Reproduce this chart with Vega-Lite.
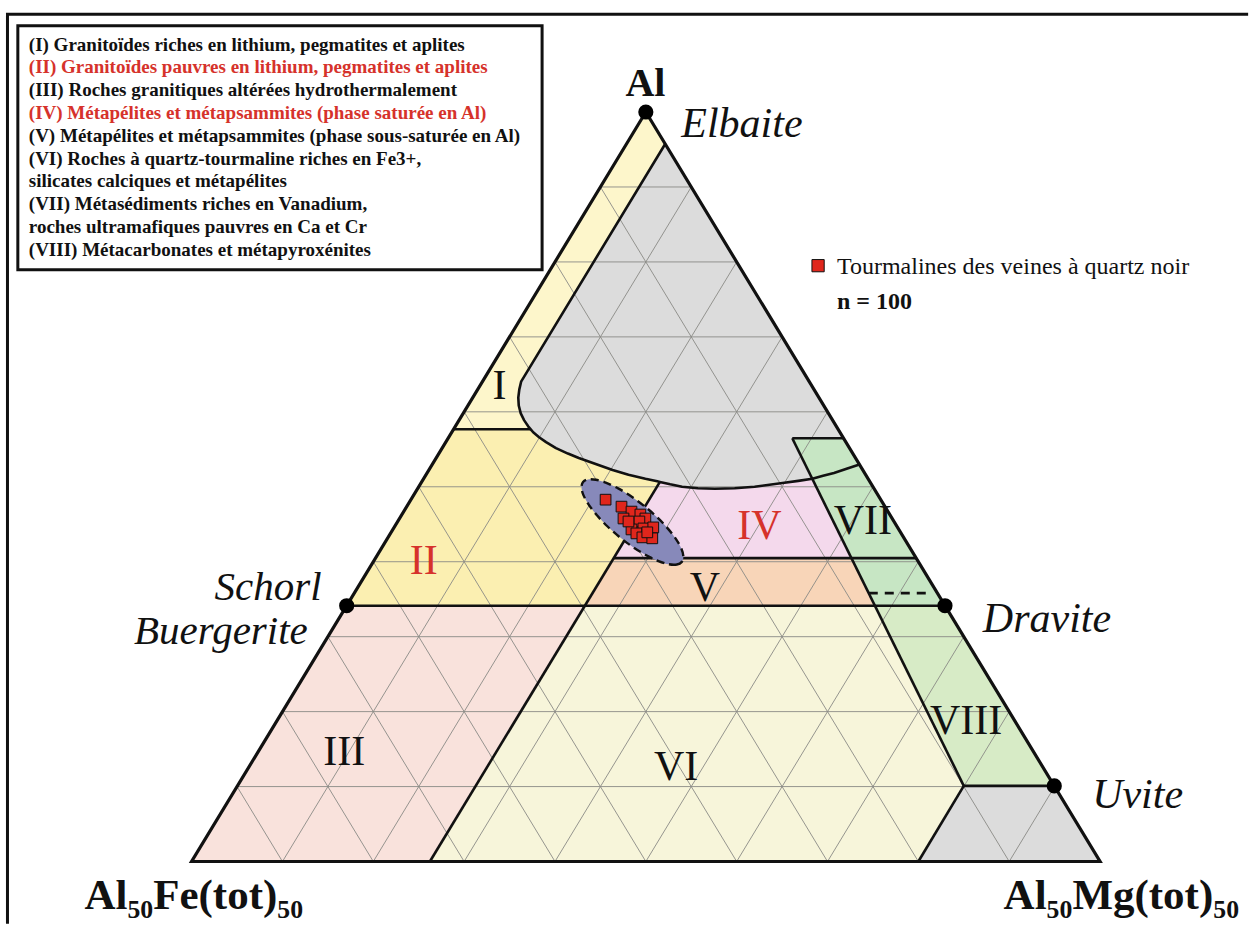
{
"$schema": "https://vega.github.io/schema/vega-lite/v6.json",
"width": 1255, "height": 930,
"autosize": {"type": "fit", "contains": "padding"},
"padding": 0,
"background": "white",
"config": {"view": {"stroke": null}},
"datasets": {
"regions": [
{"region":"grey","o":0,"x":52.13,"y":95.74},{"region":"grey","o":1,"x":36.27,"y":64.02},{"region":"grey","o":2,"x":36.07,"y":62.96},{"region":"grey","o":3,"x":35.96,"y":61.90},{"region":"grey","o":4,"x":36.01,"y":60.85},{"region":"grey","o":5,"x":36.23,"y":59.79},{"region":"grey","o":6,"x":36.61,"y":58.86},{"region":"grey","o":7,"x":37.05,"y":58.07},{"region":"grey","o":8,"x":37.33,"y":57.67},{"region":"grey","o":9,"x":37.60,"y":57.28},{"region":"grey","o":10,"x":38.25,"y":56.61},{"region":"grey","o":11,"x":39.02,"y":55.95},{"region":"grey","o":12,"x":40.11,"y":55.16},{"region":"grey","o":13,"x":41.42,"y":54.43},{"region":"grey","o":14,"x":42.62,"y":53.84},{"region":"grey","o":15,"x":44.48,"y":53.04},{"region":"grey","o":16,"x":46.34,"y":52.25},{"region":"grey","o":17,"x":48.09,"y":51.59},{"region":"grey","o":18,"x":49.95,"y":51.06},{"region":"grey","o":19,"x":51.26,"y":50.73},{"region":"grey","o":20,"x":51.55,"y":50.65},{"region":"grey","o":21,"x":52.68,"y":50.33},{"region":"grey","o":22,"x":53.99,"y":50.00},{"region":"grey","o":23,"x":55.74,"y":49.80},{"region":"grey","o":24,"x":57.60,"y":49.74},{"region":"grey","o":25,"x":59.78,"y":49.80},{"region":"grey","o":26,"x":61.97,"y":50.00},{"region":"grey","o":27,"x":63.61,"y":50.26},{"region":"grey","o":28,"x":65.25,"y":50.53},{"region":"grey","o":29,"x":66.78,"y":50.79},{"region":"grey","o":30,"x":68.33,"y":51.06},{"region":"grey","o":31,"x":66.12,"y":56.48},{"region":"grey","o":32,"x":71.76,"y":56.48},
{"region":"I","o":0,"x":50,"y":100},{"region":"I","o":1,"x":52.13,"y":95.74},{"region":"I","o":2,"x":36.27,"y":64.02},{"region":"I","o":3,"x":36.07,"y":62.96},{"region":"I","o":4,"x":35.96,"y":61.90},{"region":"I","o":5,"x":36.01,"y":60.85},{"region":"I","o":6,"x":36.23,"y":59.79},{"region":"I","o":7,"x":36.61,"y":58.86},{"region":"I","o":8,"x":37.05,"y":58.07},{"region":"I","o":9,"x":37.33,"y":57.67},{"region":"I","o":10,"x":28.84,"y":57.67},
{"region":"II","o":0,"x":28.84,"y":57.67},{"region":"II","o":1,"x":37.33,"y":57.67},{"region":"II","o":2,"x":37.60,"y":57.28},{"region":"II","o":3,"x":38.25,"y":56.61},{"region":"II","o":4,"x":39.02,"y":55.95},{"region":"II","o":5,"x":40.11,"y":55.16},{"region":"II","o":6,"x":41.42,"y":54.43},{"region":"II","o":7,"x":42.62,"y":53.84},{"region":"II","o":8,"x":44.48,"y":53.04},{"region":"II","o":9,"x":46.34,"y":52.25},{"region":"II","o":10,"x":48.09,"y":51.59},{"region":"II","o":11,"x":49.95,"y":51.06},{"region":"II","o":12,"x":51.26,"y":50.73},{"region":"II","o":13,"x":51.55,"y":50.65},{"region":"II","o":14,"x":43.30,"y":34.13},{"region":"II","o":15,"x":17.07,"y":34.13},
{"region":"IV","o":0,"x":51.55,"y":50.65},{"region":"IV","o":1,"x":52.68,"y":50.33},{"region":"IV","o":2,"x":53.99,"y":50.00},{"region":"IV","o":3,"x":55.74,"y":49.80},{"region":"IV","o":4,"x":57.60,"y":49.74},{"region":"IV","o":5,"x":59.78,"y":49.80},{"region":"IV","o":6,"x":61.97,"y":50.00},{"region":"IV","o":7,"x":63.61,"y":50.26},{"region":"IV","o":8,"x":65.25,"y":50.53},{"region":"IV","o":9,"x":66.78,"y":50.79},{"region":"IV","o":10,"x":68.33,"y":51.06},{"region":"IV","o":11,"x":72.63,"y":40.48},{"region":"IV","o":12,"x":46.47,"y":40.48},
{"region":"V","o":0,"x":46.47,"y":40.48},{"region":"V","o":1,"x":72.63,"y":40.48},{"region":"V","o":2,"x":75.22,"y":34.13},{"region":"V","o":3,"x":43.30,"y":34.13},
{"region":"VII","o":0,"x":66.12,"y":56.48},{"region":"VII","o":1,"x":71.76,"y":56.48},{"region":"VII","o":2,"x":82.93,"y":34.13},{"region":"VII","o":3,"x":75.22,"y":34.13},
{"region":"VIII","o":0,"x":75.22,"y":34.13},{"region":"VIII","o":1,"x":82.93,"y":34.13},{"region":"VIII","o":2,"x":94.96,"y":10.09},{"region":"VIII","o":3,"x":85.00,"y":10.09},
{"region":"III","o":0,"x":0,"y":0},{"region":"III","o":1,"x":26.23,"y":0},{"region":"III","o":2,"x":43.30,"y":34.13},{"region":"III","o":3,"x":17.07,"y":34.13},
{"region":"VI","o":0,"x":26.23,"y":0},{"region":"VI","o":1,"x":80,"y":0},{"region":"VI","o":2,"x":85.00,"y":10.09},{"region":"VI","o":3,"x":75.22,"y":34.13},{"region":"VI","o":4,"x":43.30,"y":34.13},
{"region":"greyLow","o":0,"x":80,"y":0},{"region":"greyLow","o":1,"x":100,"y":0},{"region":"greyLow","o":2,"x":94.96,"y":10.09},{"region":"greyLow","o":3,"x":85.00,"y":10.09}
],
"grid": [
{"x":5,"y":10,"x2":95,"y2":10},{"x":10,"y":20,"x2":90,"y2":20},{"x":15,"y":30,"x2":85,"y2":30},{"x":20,"y":40,"x2":80,"y2":40},{"x":25,"y":50,"x2":75,"y2":50},{"x":30,"y":60,"x2":70,"y2":60},{"x":35,"y":70,"x2":65,"y2":70},{"x":40,"y":80,"x2":60,"y2":80},{"x":45,"y":90,"x2":55,"y2":90},
{"x":10,"y":0,"x2":55,"y2":90},{"x":20,"y":0,"x2":60,"y2":80},{"x":30,"y":0,"x2":65,"y2":70},{"x":40,"y":0,"x2":70,"y2":60},{"x":50,"y":0,"x2":75,"y2":50},{"x":60,"y":0,"x2":80,"y2":40},{"x":70,"y":0,"x2":85,"y2":30},{"x":80,"y":0,"x2":90,"y2":20},{"x":90,"y":0,"x2":95,"y2":10},
{"x":10,"y":0,"x2":5,"y2":10},{"x":20,"y":0,"x2":10,"y2":20},{"x":30,"y":0,"x2":15,"y2":30},{"x":40,"y":0,"x2":20,"y2":40},{"x":50,"y":0,"x2":25,"y2":50},{"x":60,"y":0,"x2":30,"y2":60},{"x":70,"y":0,"x2":35,"y2":70},{"x":80,"y":0,"x2":40,"y2":80},{"x":90,"y":0,"x2":45,"y2":90}
],
"segments": [
{"x":28.84,"y":57.67,"x2":37.33,"y2":57.67},
{"x":26.23,"y":0,"x2":51.55,"y2":50.65},
{"x":17.07,"y":34.13,"x2":82.93,"y2":34.13},
{"x":46.47,"y":40.48,"x2":79.76,"y2":40.48},
{"x":66.12,"y":56.48,"x2":71.76,"y2":56.48},
{"x":66.12,"y":56.48,"x2":85.00,"y2":10.09},
{"x":85.00,"y":10.09,"x2":94.96,"y2":10.09},
{"x":80,"y":0,"x2":85.00,"y2":10.09}
],
"dashed": [{"x":74.54,"y":35.81,"x2":81.09,"y2":35.81}],
"curve": [
{"o":0,"x":52.13,"y":95.74},{"o":1,"x":36.27,"y":64.02},{"o":2,"x":36.07,"y":62.96},{"o":3,"x":35.96,"y":61.90},{"o":4,"x":36.01,"y":60.85},{"o":5,"x":36.23,"y":59.79},{"o":6,"x":36.61,"y":58.86},{"o":7,"x":37.05,"y":58.07},{"o":8,"x":37.33,"y":57.67},{"o":9,"x":37.60,"y":57.28},{"o":10,"x":38.25,"y":56.61},{"o":11,"x":39.02,"y":55.95},{"o":12,"x":40.11,"y":55.16},{"o":13,"x":41.42,"y":54.43},{"o":14,"x":42.62,"y":53.84},{"o":15,"x":44.48,"y":53.04},{"o":16,"x":46.34,"y":52.25},{"o":17,"x":48.09,"y":51.59},{"o":18,"x":49.95,"y":51.06},{"o":19,"x":51.26,"y":50.73},{"o":20,"x":51.55,"y":50.65},{"o":21,"x":52.68,"y":50.33},{"o":22,"x":53.99,"y":50.00},{"o":23,"x":55.74,"y":49.80},{"o":24,"x":57.60,"y":49.74},{"o":25,"x":59.78,"y":49.80},{"o":26,"x":61.97,"y":50.00},{"o":27,"x":63.61,"y":50.26},{"o":28,"x":65.25,"y":50.53},{"o":29,"x":66.78,"y":50.79},{"o":30,"x":68.33,"y":51.06},{"o":31,"x":69.51,"y":51.46},{"o":32,"x":70.71,"y":51.85},{"o":33,"x":72.02,"y":52.38},{"o":34,"x":73.51,"y":52.98}
],
"outline": [{"o":0,"x":0,"y":0},{"o":1,"x":100,"y":0},{"o":2,"x":50,"y":100},{"o":3,"x":0,"y":0},{"o":4,"x":100,"y":0}],
"ellipse": [
{"o":0,"x":53.96,"y":39.98},{"o":1,"x":53.42,"y":39.63},{"o":2,"x":52.54,"y":39.66},{"o":3,"x":51.39,"y":40.08},{"o":4,"x":50.05,"y":40.86},{"o":5,"x":48.60,"y":41.94},{"o":6,"x":47.15,"y":43.25},{"o":7,"x":45.79,"y":44.70},{"o":8,"x":44.62,"y":46.19},{"o":9,"x":43.71,"y":47.62},{"o":10,"x":43.13,"y":48.89},{"o":11,"x":42.92,"y":49.92},{"o":12,"x":43.09,"y":50.63},{"o":13,"x":43.63,"y":50.98},{"o":14,"x":44.50,"y":50.94},{"o":15,"x":45.65,"y":50.52},{"o":16,"x":47.00,"y":49.75},{"o":17,"x":48.45,"y":48.67},{"o":18,"x":49.90,"y":47.36},{"o":19,"x":51.26,"y":45.91},{"o":20,"x":52.43,"y":44.42},{"o":21,"x":53.34,"y":42.99},{"o":22,"x":53.92,"y":41.72},{"o":23,"x":54.13,"y":40.69}
],
"samples": [
{"x":45.57,"y":48.28},{"x":47.32,"y":47.35},{"x":48.42,"y":46.69},{"x":49.40,"y":46.30},{"x":47.54,"y":45.77},{"x":49.95,"y":45.77},{"x":48.63,"y":45.11},{"x":49.29,"y":45.37},{"x":49.73,"y":44.44},{"x":50.82,"y":44.58},{"x":48.42,"y":44.31},{"x":48.96,"y":43.78},{"x":49.62,"y":43.25},{"x":50.71,"y":43.12},{"x":50.16,"y":43.92},{"x":48.09,"y":45.37}
],
"vertices": [{"x":50,"y":100},{"x":17.07,"y":34.13},{"x":82.93,"y":34.13},{"x":94.96,"y":10.09}],
"frame": [{"o":0,"x":-20.27,"y":-8.3},{"o":1,"x":-20.27,"y":113.03},{"o":2,"x":116.3,"y":113.03}],
"box": [{"x":-19.13,"y":111.51,"x2":38.58,"y2":78.97}],
"legendText": [
{"region":"I","x":-17.92,"y":108.20,"label":"(I) Granitoïdes riches en lithium, pegmatites et aplites"},
{"region":"II","x":-17.92,"y":105.16,"label":"(II) Granitoïdes pauvres en lithium, pegmatites et aplites"},
{"region":"III","x":-17.92,"y":102.12,"label":"(III) Roches granitiques altérées hydrothermalement"},
{"region":"IV","x":-17.92,"y":99.07,"label":"(IV) Métapélites et métapsammites (phase saturée en Al)"},
{"region":"V","x":-17.92,"y":96.03,"label":"(V) Métapélites et métapsammites (phase sous-saturée en Al)"},
{"region":"VI","x":-17.92,"y":92.99,"label":"(VI) Roches à quartz-tourmaline riches en Fe3+,"},
{"region":"VI","x":-17.92,"y":89.95,"label":"silicates calciques et métapélites"},
{"region":"VII","x":-17.92,"y":86.90,"label":"(VII) Métasédiments riches en Vanadium,"},
{"region":"VII","x":-17.92,"y":83.86,"label":"roches ultramafiques pauvres en Ca et Cr"},
{"region":"VIII","x":-17.92,"y":80.82,"label":"(VIII) Métacarbonates et métapyroxénites"}
],
"numerals": [
{"region":"I","x":33.88,"y":61.68},{"region":"II","x":25.54,"y":38.36},{"region":"III","x":16.80,"y":12.87},{"region":"IV","x":62.51,"y":43.08},{"region":"V","x":56.50,"y":34.79},{"region":"VI","x":53.33,"y":10.85},{"region":"VII","x":73.90,"y":43.74},{"region":"VIII","x":85.25,"y":17.06}
],
"endLeft": [{"label":"Elbaite","x":53.90,"y":96.69},{"label":"Dravite","x":87.10,"y":30.56},{"label":"Uvite","x":99.13,"y":7.14}],
"endRight": [{"label":"Schorl","x":14.30,"y":34.85},{"label":"Buergerite","x":12.79,"y":29.05}],
"apexLabel": [{"label":"Al","x":49.95,"y":102.12}],
"cornerLeft": [{"label":"Al₅₀Fe(tot)₅₀","x":-11.80,"y":-6.40}],
"cornerRight": [{"label":"Al₅₀Mg(tot)₅₀","x":115.3,"y":-6.40}],
"keySymbol": [{"x":68.96,"y":79.50}],
"keyText": [{"label":"Tourmalines des veines à quartz noir","x":71.04,"y":78.44}],
"keyCount": [{"label":"n = 100","x":71.04,"y":73.68}]
},
"encoding": {
"x": {"field":"x","type":"quantitative","scale":{"domain":[-21.093,116.066],"nice":false,"zero":false},"axis":null},
"y": {"field":"y","type":"quantitative","scale":{"domain":[-8.069,114.947],"nice":false,"zero":false},"axis":null}
},
"layer": [
{"data":{"name":"frame"},"mark":{"type":"line","stroke":"#111","strokeWidth":3,"strokeJoin":"miter"},"encoding":{"order":{"field":"o","type":"quantitative"}}},
{"data":{"name":"box"},"mark":{"type":"rect","fill":"white","stroke":"#111","strokeWidth":3},"encoding":{"x2":{"field":"x2"},"y2":{"field":"y2"}}},
{"data":{"name":"regions"},"mark":{"type":"line","interpolate":"linear-closed","strokeWidth":1},
 "encoding":{"detail":{"field":"region","type":"nominal"},"order":{"field":"o","type":"quantitative"},
 "fill":{"field":"region","type":"nominal","legend":null,"scale":{"domain":["grey","I","II","III","IV","V","VI","VII","VIII","greyLow"],"range":["#dcdcdc","#fdf6cb","#fbefb1","#f9e2dc","#f4d9ec","#f8d5b8","#f7f5da","#c7e6c4","#d7ebc6","#dcdcdc"]}},
 "stroke":{"field":"region","type":"nominal","legend":null,"scale":{"domain":["grey","I","II","III","IV","V","VI","VII","VIII","greyLow"],"range":["#dcdcdc","#fdf6cb","#fbefb1","#f9e2dc","#f4d9ec","#f8d5b8","#f7f5da","#c7e6c4","#d7ebc6","#dcdcdc"]}}}},
{"data":{"name":"grid"},"mark":{"type":"rule","stroke":"#8a8a86","strokeWidth":0.9},"encoding":{"x2":{"field":"x2"},"y2":{"field":"y2"}}},
{"data":{"name":"segments"},"mark":{"type":"rule","stroke":"#111","strokeWidth":2.6},"encoding":{"x2":{"field":"x2"},"y2":{"field":"y2"}}},
{"data":{"name":"dashed"},"mark":{"type":"rule","stroke":"#111","strokeWidth":2.6,"strokeDash":[9,7]},"encoding":{"x2":{"field":"x2"},"y2":{"field":"y2"}}},
{"data":{"name":"curve"},"mark":{"type":"line","stroke":"#111","strokeWidth":2.6,"strokeJoin":"round"},"encoding":{"order":{"field":"o","type":"quantitative"}}},
{"data":{"name":"outline"},"mark":{"type":"line","stroke":"#111","strokeWidth":3.2,"strokeJoin":"miter"},"encoding":{"order":{"field":"o","type":"quantitative"}}},
{"data":{"name":"ellipse"},"mark":{"type":"line","interpolate":"cardinal-closed","fill":"#8789ba","stroke":"#111","strokeWidth":2.4,"strokeDash":[8,5]},"encoding":{"order":{"field":"o","type":"quantitative"}}},
{"data":{"name":"samples"},"mark":{"type":"point","shape":"square","filled":true,"size":115,"fill":"#e0261c","stroke":"#111","strokeWidth":1,"opacity":1}},
{"data":{"name":"vertices"},"mark":{"type":"point","shape":"circle","filled":true,"size":230,"fill":"#000","opacity":1}},
{"data":{"name":"legendText"},"mark":{"type":"text","font":"Liberation Serif","fontWeight":"bold","fontSize":19,"align":"left","baseline":"alphabetic"},
 "encoding":{"text":{"field":"label"},"color":{"field":"region","type":"nominal","legend":null,"scale":{"domain":["I","II","III","IV","V","VI","VII","VIII"],"range":["#111","#d6322b","#111","#d6322b","#111","#111","#111","#111"]}}}},
{"data":{"name":"numerals"},"mark":{"type":"text","font":"Liberation Serif","fontSize":42,"align":"center","baseline":"alphabetic"},
 "encoding":{"text":{"field":"region"},"color":{"field":"region","type":"nominal","legend":null,"scale":{"domain":["I","II","III","IV","V","VI","VII","VIII"],"range":["#111","#d6322b","#111","#d6322b","#111","#111","#111","#111"]}}}},
{"data":{"name":"endLeft"},"mark":{"type":"text","font":"Liberation Serif","fontStyle":"italic","fontSize":42,"align":"left","baseline":"alphabetic","fill":"#111"},"encoding":{"text":{"field":"label"}}},
{"data":{"name":"endRight"},"mark":{"type":"text","font":"Liberation Serif","fontStyle":"italic","fontSize":41,"align":"right","baseline":"alphabetic","fill":"#111"},"encoding":{"text":{"field":"label"}}},
{"data":{"name":"apexLabel"},"mark":{"type":"text","font":"Liberation Serif","fontWeight":"bold","fontSize":40,"align":"center","baseline":"alphabetic","fill":"#111"},"encoding":{"text":{"field":"label"}}},
{"data":{"name":"cornerLeft"},"mark":{"type":"text","font":"Liberation Serif","fontWeight":"bold","fontSize":43,"align":"left","baseline":"alphabetic","fill":"#111"},"encoding":{"text":{"field":"label"}}},
{"data":{"name":"cornerRight"},"mark":{"type":"text","font":"Liberation Serif","fontWeight":"bold","fontSize":43,"align":"right","baseline":"alphabetic","fill":"#111"},"encoding":{"text":{"field":"label"}}},
{"data":{"name":"keySymbol"},"mark":{"type":"point","shape":"square","filled":true,"size":150,"fill":"#e0261c","stroke":"#111","strokeWidth":1,"opacity":1}},
{"data":{"name":"keyText"},"mark":{"type":"text","font":"Liberation Serif","fontSize":24,"align":"left","baseline":"alphabetic","fill":"#111"},"encoding":{"text":{"field":"label"}}},
{"data":{"name":"keyCount"},"mark":{"type":"text","font":"Liberation Serif","fontWeight":"bold","fontSize":24,"align":"left","baseline":"alphabetic","fill":"#111"},"encoding":{"text":{"field":"label"}}}
]
}
